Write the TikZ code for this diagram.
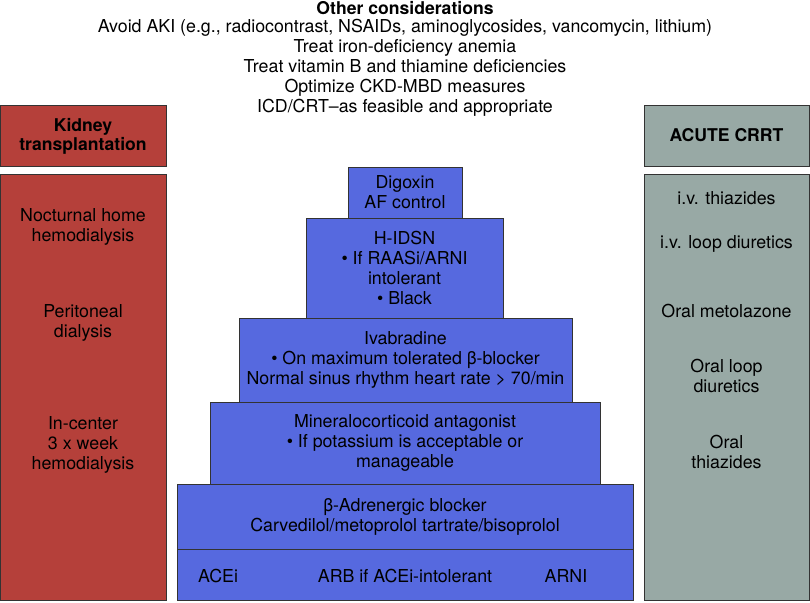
\documentclass[tikz,border=0pt]{standalone}
\usepackage{fontspec}
\setmainfont{TeX Gyre Heros}
\definecolor{kidneyred}{HTML}{B5403A}
\definecolor{pyrblue}{HTML}{5669DF}
\definecolor{crrtgrey}{HTML}{98A9A5}
\begin{document}
\begin{tikzpicture}
            [x=1pt, y=-1pt,
            redbox/.style={draw=black!80, fill=kidneyred, line width=0.9pt, inner sep=0pt, outer sep=0pt, align=center},
            greybox/.style={draw=black!80, fill=crrtgrey, line width=0.9pt, inner sep=0pt, outer sep=0pt, align=center},
            bluebox/.style={draw=black!80, fill=pyrblue, line width=0.9pt, inner sep=0pt, outer sep=0pt, align=center, font=\fontsize{17.8}{20}\selectfont},
            txt/.style={align=center, inner sep=0pt, font=\fontsize{17.8}{20}\selectfont},
            head/.style={align=center, inner sep=0pt, font=\fontsize{17.6}{19}\selectfont\bfseries}]

            \useasboundingbox (0,0) rectangle (810,602);

            % other considerations
            \node[head] (t0) at (405,8) {Other considerations};
            \node[txt] (t1) at (405,67.5) {Avoid AKI (e.g., radiocontrast, NSAIDs, aminoglycosides, vancomycin, lithium)\\
              Treat iron-deficiency anemia\\
              Treat vitamin B and thiamine deficiencies\\
              Optimize CKD-MBD measures\\
              ICD/CRT--as feasible and appropriate};

            % left column
            \node[redbox, minimum width=166pt, minimum height=61pt] (k1) at (83,135.5) {};
            \node[head] (k1t) at (83,136.5) {Kidney\\transplantation};
            \node[redbox, minimum width=166pt, minimum height=426pt] (k2) at (83,387) {};
            \node[txt] (k3) at (83,227) {Nocturnal home\\hemodialysis};
            \node[txt] (k4) at (83,323) {Peritoneal\\dialysis};
            \node[txt] (k5) at (83,445) {In-center\\3 x week\\hemodialysis};

            % right column
            \node[greybox, minimum width=165pt, minimum height=61pt] (c1) at (726.5,135.5) {};
            \node[head] (c1t) at (726.5,135) {ACUTE CRRT};
            \node[greybox, minimum width=165pt, minimum height=426pt] (c2) at (726.5,387) {};
            \node[txt] (c3) at (726.5,198) {i.v. thiazides};
            \node[txt] (c4) at (726.5,244) {i.v. loop diuretics};
            \node[txt] (c5) at (726.5,311) {Oral metolazone};
            \node[txt] (c6) at (726.5,376) {Oral loop\\diuretics};
            \node[txt] (c7) at (726.5,452) {Oral\\thiazides};

            % pyramid
            \node[bluebox, minimum width=114pt, minimum height=51pt] (p1) at (405,192.5) {Digoxin\\AF control};
            \node[bluebox, minimum width=197pt, minimum height=100pt] (p2) at (404.5,268) {H-IDSN\\\textbullet{} If RAASi/ARNI\\intolerant\\\textbullet{} Black};
            \node[bluebox, minimum width=333pt, minimum height=84pt] (p3) at (405.5,360) {Ivabradine\\\textbullet{} On maximum tolerated β-blocker\\Normal sinus rhythm heart rate > 70/min};
            \node[bluebox, minimum width=390pt, minimum height=82pt] (p4) at (405,443) {Mineralocorticoid antagonist\\\textbullet{} If potassium is acceptable or\\manageable};
            \node[bluebox, minimum width=456pt, minimum height=65pt] (p5) at (405,516.5) {β-Adrenergic blocker\\Carvedilol/metoprolol tartrate/bisoprolol};
            \node[bluebox, minimum width=456pt, minimum height=51pt] (p6) at (405,574.5) {};
            \node[txt] (p6a) at (218,576) {ACEi};
            \node[txt] (p6b) at (405,576) {ARB if ACEi-intolerant};
            \node[txt] (p6c) at (566,576) {ARNI};

        \end{tikzpicture}
\end{document}
